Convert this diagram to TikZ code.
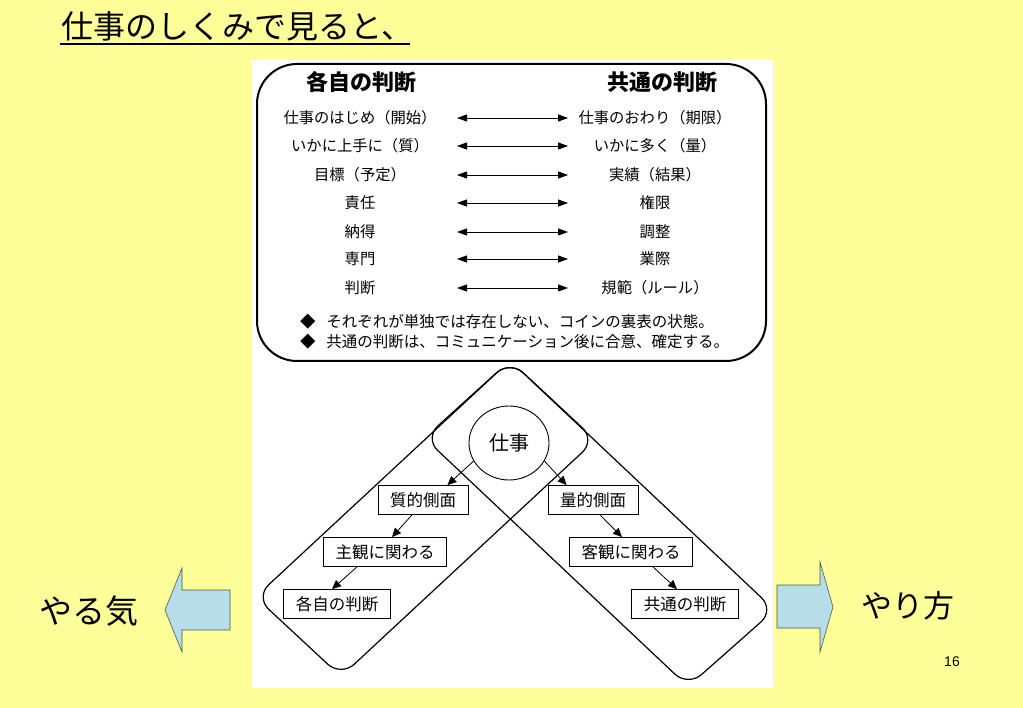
\documentclass[tikz,border=0pt]{standalone}
\usepackage{fontspec}
\setmainfont{Noto Sans CJK JP}
\newfontfamily\latinfont{Liberation Sans}
\usepackage{tikz}
\usetikzlibrary{shapes.geometric}
\usetikzlibrary{arrows.meta}
\definecolor{slidebg}{HTML}{FFFF99}
\definecolor{arrowfill}{HTML}{B7DDE8}
\definecolor{arrowline}{HTML}{4A5A4A}

\begin{document}
\begin{tikzpicture}[x=1pt, y=-1pt,
    rowtext/.style={font=\fontsize{15.3}{18}\selectfont, inner sep=0pt, outer sep=0pt},
    lefttext/.style={rowtext, minimum width=194pt},
    righttext/.style={rowtext, minimum width=174pt},
    pair/.style={{Triangle[length=10pt, width=7pt]}-{Triangle[length=10pt, width=7pt]}, line width=0.8pt},
    band/.style={line width=1.2pt, rounded corners=18pt},
    stepbox/.style={draw, fill=white, line width=0.8pt, font=\fontsize{16.5}{19}\selectfont, inner xsep=12pt, inner ysep=0pt, minimum height=29pt},
    flow/.style={-{Triangle[length=9pt, width=8pt]}, line width=0.8pt},
    bigarrow/.style={draw=arrowline, fill=arrowfill, line width=0.6pt}]
        \useasboundingbox (0, 0) rectangle (1023, 708);
        \fill[slidebg] (0, 0) rectangle (1023, 708);
        \fill[white] (251, 60) rectangle (773, 688);

        % title
        \node[anchor=base west, inner sep=0pt, font=\fontsize{32}{38}\selectfont] (title) at (61, 39) {仕事のしくみで見ると、};
        \draw[line width=1.5pt] ([yshift=-5pt, xshift=-1pt]title.base west) -- ([yshift=-5pt, xshift=-3pt]title.base east);

        % upper box
        \draw[line width=2pt, rounded corners=40pt] (257, 64) rectangle (766, 361);
        \node[font=\fontsize{22}{26}\selectfont\bfseries] (ownhead) at (361, 82) {各自の判断};
        \node[font=\fontsize{22}{26}\selectfont\bfseries] (commonhead) at (662, 82) {共通の判断};

        \node[lefttext] (l1) at (360, 118) {仕事のはじめ（開始）};
        \node[righttext] (r1) at (655, 118) {仕事のおわり（期限）};
        \draw[pair] (l1) -- (r1);
        \node[lefttext] (l2) at (360, 146) {いかに上手に（質）};
        \node[righttext] (r2) at (655, 146) {いかに多く（量）};
        \draw[pair] (l2) -- (r2);
        \node[lefttext] (l3) at (360, 175) {目標（予定）};
        \node[righttext] (r3) at (655, 175) {実績（結果）};
        \draw[pair] (l3) -- (r3);
        \node[lefttext] (l4) at (360, 203) {責任};
        \node[righttext] (r4) at (655, 203) {権限};
        \draw[pair] (l4) -- (r4);
        \node[lefttext] (l5) at (360, 232) {納得};
        \node[righttext] (r5) at (655, 232) {調整};
        \draw[pair] (l5) -- (r5);
        \node[lefttext] (l6) at (360, 259) {専門};
        \node[righttext] (r6) at (655, 259) {業際};
        \draw[pair] (l6) -- (r6);
        \node[lefttext] (l7) at (360, 288) {判断};
        \node[righttext] (r7) at (655, 288) {規範（ルール）};
        \draw[pair] (l7) -- (r7);

        \node[rowtext, anchor=west, font=\fontsize{15.5}{18}\selectfont] (note1) at (300, 322) {◆\hspace{11pt}それぞれが単独では存在しない、コインの裏表の状態。};
        \node[rowtext, anchor=west, font=\fontsize{15.5}{18}\selectfont] (note2) at (300, 342) {◆\hspace{11pt}共通の判断は、コミュニケーション後に合意、確定する。};

        % lower part: the two bands share their top corner
        \coordinate (peak) at (510, 360.5);
        \coordinate (lright) at (595.5, 440);
        \coordinate (lbottom) at (341, 676.5);
        \coordinate (lleft) at (255.5, 597);
        \coordinate (rleft) at (424.5, 438);
        \coordinate (rbottom) at (688, 686.5);
        \coordinate (rright) at (774.5, 610);
        \draw[band] (peak) -- (lright) -- (lbottom) -- (lleft) -- cycle;
        \draw[band] (peak) -- (rright) -- (rbottom) -- (rleft) -- cycle;

        \node[draw, ellipse, fill=white, line width=0.9pt, minimum width=80pt, minimum height=74pt, font=\fontsize{20}{24}\selectfont] (work) at (509, 443) {仕事};
        \node[stepbox] (qual) at (423, 500) {質的側面};
        \node[stepbox] (quant) at (593, 500) {量的側面};
        \node[stepbox] (subj) at (385, 552) {主観に関わる};
        \node[stepbox] (obj) at (631, 552) {客観に関わる};
        \node[stepbox] (own) at (337, 604) {各自の判断};
        \node[stepbox] (common) at (685, 604) {共通の判断};

        \draw[flow] (work.207) -- ([xshift=-21pt]qual.north east);
        \draw[flow] (work.333) -- ([xshift=19pt]quant.north west);
        \draw[flow] ([xshift=-11pt]qual.south) -- ([xshift=7pt]subj.north);
        \draw[flow] ([xshift=-28pt]subj.south) -- ([xshift=-5pt]own.north);
        \draw[flow] ([xshift=7pt]quant.south) -- ([xshift=-9pt]obj.north);
        \draw[flow] ([xshift=22pt]obj.south) -- ([xshift=-8pt]common.north);

        % side arrows
        \draw[bigarrow] (230, 590) -- (182, 590) -- (182, 568) -- (165, 610) -- (182, 652) -- (182, 630) -- (230, 630) -- cycle;
        \draw[bigarrow] (777, 585) -- (820, 585) -- (820, 562) -- (833, 607) -- (820, 652) -- (820, 628) -- (777, 628) -- cycle;
        \node[font=\fontsize{33}{38}\selectfont] (motivation) at (89, 611) {やる気};
        \node[font=\fontsize{31}{36}\selectfont] (method) at (908, 606) {やり方};
        \node[font=\fontsize{14}{16}\selectfont\latinfont] (pageno) at (952, 662) {16};
    \end{tikzpicture}
\end{document}
